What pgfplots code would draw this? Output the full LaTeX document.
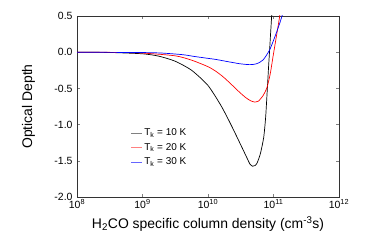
\documentclass[border=0pt]{standalone}
\usepackage{fontspec}
\setmainfont{Liberation Sans}
\usepackage{pgfplots}
\pgfplotsset{compat=1.18}
\begin{document}
\begin{tikzpicture}
\path[use as bounding box] (-77bp,-51bp) rectangle (289bp,197bp);
\begin{axis}[
  at={(0,0)}, anchor=south west,
  scale only axis, width=262bp, height=181bp,
  xmode=log, xmin=1e8, xmax=1e12, ymin=-2, ymax=0.5,
  xtick={1e8,1e9,1e10,1e11,1e12},
  xticklabels={10\textsuperscript{8},10\textsuperscript{9},10\textsuperscript{10},10\textsuperscript{11},10\textsuperscript{12}},
  xminorticks=false, yminorticks=false,
  ytick={-2,-1.5,-1,-0.5,0,0.5},
  /pgf/number format/fixed,
  /pgf/number format/fixed zerofill,
  /pgf/number format/precision=1,
  /pgf/number format/assume math mode=true,
  tick label style={font=\fontsize{10.5}{12}\selectfont},
  xticklabel style={yshift=1.5bp},
  yticklabel style={xshift=-1bp},
  major tick length=3bp,
  tick style={gray, line width=0.5bp},
  axis line style={black!80, line width=0.7bp},
  xlabel={H\textsubscript{2}CO specific column density (cm\textsuperscript{-3}s)},
  ylabel={Optical Depth},
  label style={font=\fontsize{14}{16}\selectfont},
  xlabel style={at={(axis description cs:0.5,-0.15)}, anchor=center},
  ylabel style={at={(axis description cs:-0.185,0.5)}, anchor=center},
  legend style={at={(axis description cs:0.2,0.395)}, anchor=north west, draw=none, fill=none,
    font=\fontsize{10}{11}\selectfont, row sep=2.2bp, inner sep=1bp},
  legend cell align=left,
  legend image code/.code={\draw[#1] (0bp,0bp) -- (11bp,0bp);},
]
\addplot[black, line width=0.7bp, smooth, tension=0.4, forget plot] coordinates {
(1e8,0) (3.162e8,-0.004) (1e9,-0.022) (1.778e9,-0.055) (3.162e9,-0.125)
(5.623e9,-0.25) (1e10,-0.46) (1.585e10,-0.74) (2.239e10,-1.00) (3.162e10,-1.28)
(3.981e10,-1.47) (4.365e10,-1.545) (4.786e10,-1.575) (5.248e10,-1.565) (5.623e10,-1.53)
(6.310e10,-1.40) (7.079e10,-1.18) (7.586e10,-0.90) (8.035e10,-0.52) (8.414e10,-0.20)
(8.710e10,0.02) (9.016e10,0.25) (9.376e10,0.5) (9.661e10,0.72)
};
\addplot[red, line width=0.7bp, smooth, tension=0.4, forget plot] coordinates {
(1e8,0) (3.162e8,-0.002) (1e9,-0.012) (3.162e9,-0.05) (5.623e9,-0.11)
(1e10,-0.2) (1.349e10,-0.27) (1.778e10,-0.355) (2.399e10,-0.465) (3.090e10,-0.56)
(3.802e10,-0.63) (4.467e10,-0.67) (5.129e10,-0.688) (5.888e10,-0.675) (6.918e10,-0.60)
(7.943e10,-0.49) (8.913e10,-0.3) (1e11,-0.02) (1.122e11,0.25) (1.245e11,0.5) (1.349e11,0.72)
};
\addplot[blue, line width=0.7bp, smooth, tension=0.4, forget plot] coordinates {
(1e8,0) (1e9,-0.005) (1.995e9,-0.012) (4.169e9,-0.035) (6.310e9,-0.06)
(1e10,-0.085) (1.318e10,-0.1) (1.995e10,-0.13) (3.090e10,-0.16) (4.365e10,-0.172)
(5.495e10,-0.16) (6.918e10,-0.108) (8.710e10,0.03) (1.047e11,0.21) (1.245e11,0.4)
(1.349e11,0.5) (1.479e11,0.62)
};
\addlegendimage{draw=black!50, line width=0.8bp}
\addlegendentry{T\textsubscript{k} = 10 K}
\addlegendimage{draw=red!50, line width=0.8bp}
\addlegendentry{T\textsubscript{k} = 20 K}
\addlegendimage{draw=blue!60, line width=0.8bp}
\addlegendentry{T\textsubscript{k} = 30 K}
\end{axis}
\end{tikzpicture}
\end{document}
